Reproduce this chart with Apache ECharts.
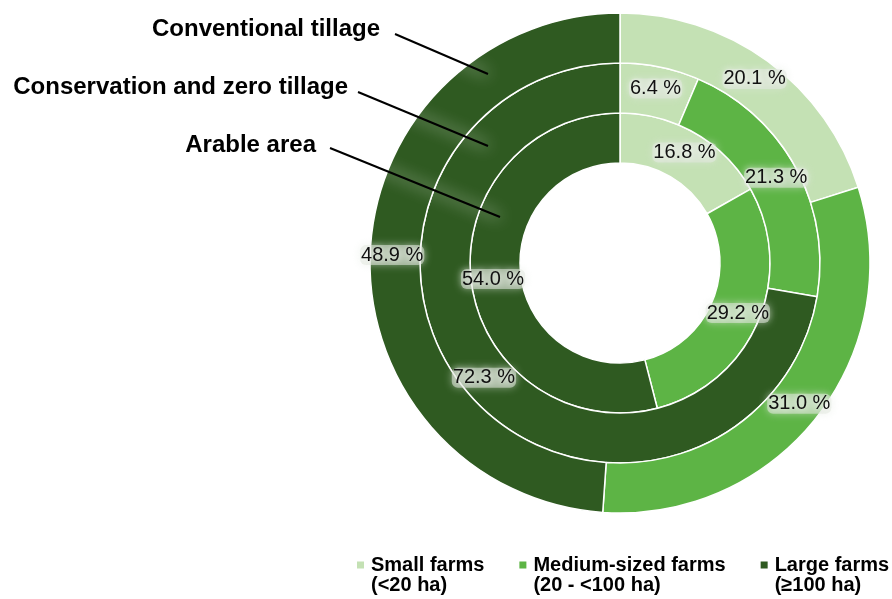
<!DOCTYPE html>
<html>
<head>
<meta charset="utf-8">
<script src="https://cdn.jsdelivr.net/npm/echarts@6/dist/echarts.min.js"></script>
<style>
html,body{margin:0;padding:0;background:#fff;}
#chart{width:892px;height:599px;}
</style>
</head>
<body>
<div id="chart"></div>
<script>
// ---- data ----
const categories = ['Small farms\n(<20 ha)', 'Medium-sized farms\n(20 - <100 ha)', 'Large farms\n(≥100 ha)'];
const ringNames = ['Arable area', 'Conservation and zero tillage', 'Conventional tillage'];
const arableArea = [16.8, 29.2, 54.0];
const conservationTillage = [6.4, 21.3, 72.3];
const conventionalTillage = [20.1, 31.0, 48.9];

const colors = ['#c4e1b4', '#5db445', '#2f5a21'];
const FONT = '"Liberation Sans", Arial, sans-serif';
const rings = [arableArea, conservationTillage, conventionalTillage];
const radii = [[100, 150], [150, 200], [200, 250]];
const center = [620, 263];

const series = rings.map((vals, i) => ({
  type: 'pie',
  name: ringNames[i],
  center: center,
  radius: radii[i],
  startAngle: 90,
  clockwise: true,
  avoidLabelOverlap: false,
  silent: true,
  itemStyle: { borderColor: '#fff', borderWidth: 1.5 },
  label: {
    show: true,
    position: 'inside',
    formatter: p => p.value.toFixed(1) + ' %',
    color: '#111',
    fontFamily: FONT,
    fontSize: 20,
    textShadowColor: 'rgba(255,255,255,0.95)',
    textShadowBlur: 6,
    backgroundColor: 'rgba(225,232,222,0.55)',
    shadowColor: 'rgba(225,232,222,0.9)',
    shadowBlur: 8,
    borderRadius: 6,
    padding: [0, 1]
  },
  labelLine: { show: false },
  emphasis: { disabled: true },
  data: categories.map((c, j) => ({ name: c, value: vals[j] }))
}));

// annotation texts & leader lines
const annot = [
  { text: ringNames[2], x: 380, y: 29, line: [395, 34, 488, 74] },
  { text: ringNames[1], x: 348, y: 87, line: [358, 92, 488, 146] },
  { text: ringNames[0], x: 316, y: 145, line: [330, 148, 500, 217] }
];
const graphic = [];
annot.forEach(a => {
  graphic.push({
    type: 'text', z: 100, x: a.x, y: a.y,
    style: { text: a.text, fill: '#000', font: 'bold 24px ' + FONT, align: 'right', verticalAlign: 'middle' }
  });
  graphic.push({
    type: 'line', z: 100,
    shape: { x1: a.line[0], y1: a.line[1], x2: a.line[2], y2: a.line[3] },
    style: { stroke: '#000', lineWidth: 2, shadowColor: 'rgba(255,255,255,1)', shadowBlur: 16 }
  });
});

const chart = echarts.init(document.getElementById('chart'), null, { renderer: 'canvas' });
chart.setOption({
  animation: false,
  color: colors,
  legend: {
    data: categories,
    left: 357,
    top: 555,
    width: 560,
    padding: 0,
    itemGap: 35,
    itemWidth: 7,
    itemHeight: 27,
    icon: 'path://M0,0H7V7H0Z M0,27H0.01V27.01H0Z',
    itemStyle: { borderWidth: 0 },
    selectedMode: false,
    textStyle: { fontFamily: FONT, fontSize: 20, fontWeight: 'bold', color: '#000', lineHeight: 20, padding: [0, 0, 0, 2] }
  },
  graphic: graphic,
  series: series
});
</script>
</body>
</html>
